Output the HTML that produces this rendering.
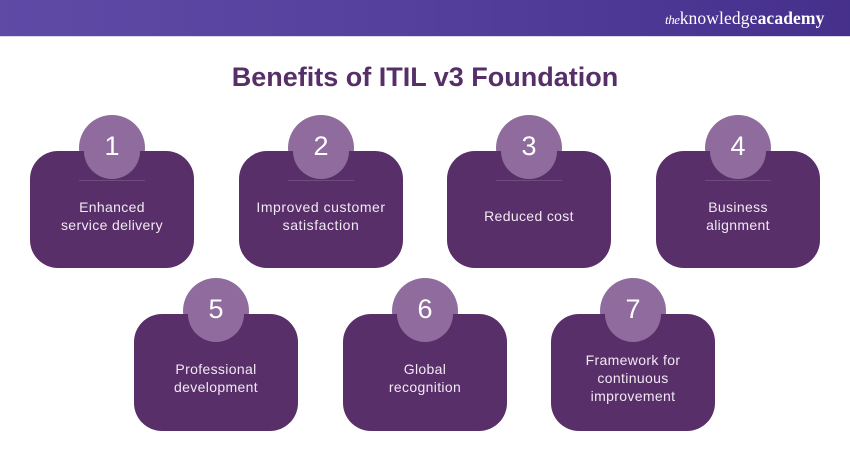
<!DOCTYPE html>
<html><head><meta charset="utf-8">
<style>
html,body{margin:0;padding:0;background:#fff}
#p{position:relative;width:850px;height:450px;overflow:hidden;background:#fff;font-family:"Liberation Sans",sans-serif}
#h{position:absolute;left:0;top:0;width:850px;height:36px;background:linear-gradient(90deg,#5f4ba6 0%,#553f9d 50%,#45308c 100%)}
#b{position:absolute;left:0;top:36px;width:850px;height:1px;background:#dcd8e8}
#l{position:absolute;left:665px;top:7px;color:#fff;font:17.5px/22px "Liberation Serif",serif;white-space:nowrap;letter-spacing:.12px}
#l i{font-size:13px;letter-spacing:-.4px}
#l b{font-weight:bold}
#t{position:absolute;left:0;width:850px;top:60px;text-align:center;font-size:27px;line-height:34px;font-weight:bold;color:#562f69}
.c{position:absolute;width:164px;height:117px;border-radius:28px;background:#582f68}
.o{position:absolute;width:66px;height:66px;border-radius:50%;background:#8f6c9d}
.n{position:absolute;width:56px;height:56px;border-radius:50%;background:#8f6c9d;color:#fff;text-align:center;font-size:27px;line-height:47px}
.r{position:absolute;width:66px;height:1px;background:#6d4c7f}
.x{position:absolute;width:164px;text-align:center;color:#f1e9f4;font-size:14px;line-height:18px;letter-spacing:.35px}
</style></head><body>
<div id="p">
<div id="h"></div><div id="b"></div>
<div id="l"><i>the</i>knowledge<b>academy</b></div>
<div id="t">Benefits of ITIL v3 Foundation</div>

<div class="o" style="left:79px;top:115px"></div>
<div class="c" style="left:30px;top:151px"></div>
<div class="n" style="left:84px;top:123px">1</div>
<div class="r" style="left:79px;top:180px"></div>
<div class="x" style="left:30px;top:198px">Enhanced<br>service delivery</div>

<div class="o" style="left:288px;top:115px"></div>
<div class="c" style="left:239px;top:151px"></div>
<div class="n" style="left:293px;top:123px">2</div>
<div class="r" style="left:288px;top:180px"></div>
<div class="x" style="left:239px;top:198px;letter-spacing:.55px">Improved customer<br>satisfaction</div>

<div class="o" style="left:496px;top:115px"></div>
<div class="c" style="left:447px;top:151px"></div>
<div class="n" style="left:501px;top:123px">3</div>
<div class="r" style="left:496px;top:180px"></div>
<div class="x" style="left:447px;top:207px">Reduced cost</div>

<div class="o" style="left:705px;top:115px"></div>
<div class="c" style="left:656px;top:151px"></div>
<div class="n" style="left:710px;top:123px">4</div>
<div class="r" style="left:705px;top:180px"></div>
<div class="x" style="left:656px;top:198px">Business<br>alignment</div>

<div class="o" style="left:183px;top:278px"></div>
<div class="c" style="left:134px;top:314px"></div>
<div class="n" style="left:188px;top:286px">5</div>
<div class="x" style="left:134px;top:360px">Professional<br>development</div>

<div class="o" style="left:392px;top:278px"></div>
<div class="c" style="left:343px;top:314px"></div>
<div class="n" style="left:397px;top:286px">6</div>
<div class="x" style="left:343px;top:360px">Global<br>recognition</div>

<div class="o" style="left:600px;top:278px"></div>
<div class="c" style="left:551px;top:314px"></div>
<div class="n" style="left:605px;top:286px">7</div>
<div class="x" style="left:551px;top:351px">Framework for<br>continuous<br>improvement</div>
</div>
</body></html>
